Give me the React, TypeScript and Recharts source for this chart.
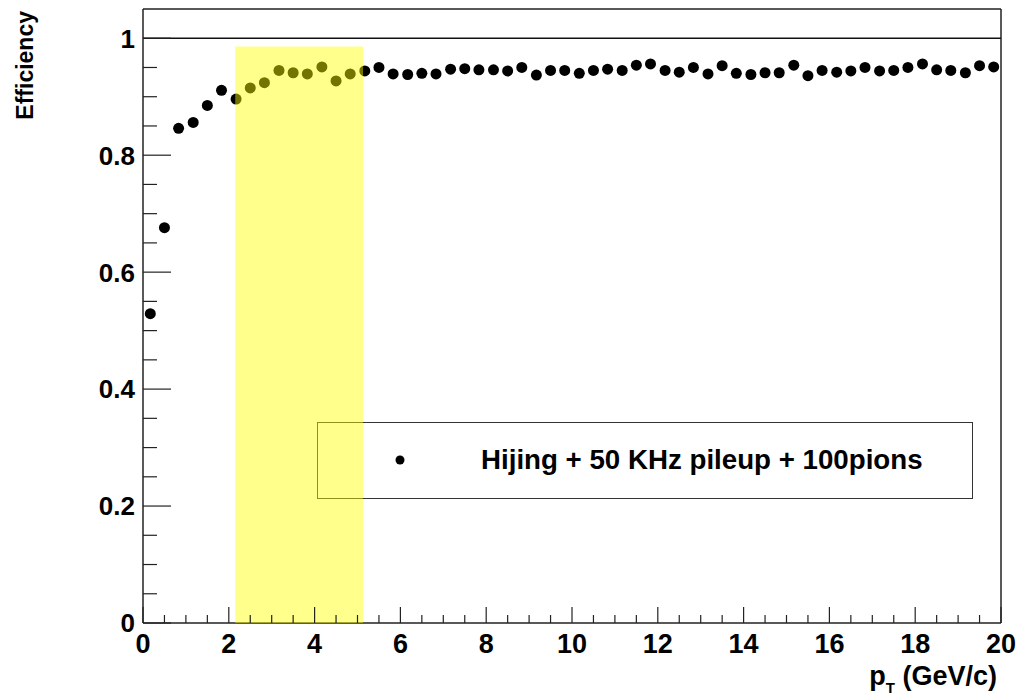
import { ScatterChart, Scatter, XAxis, YAxis, ReferenceArea, ReferenceLine } from 'recharts'

const FONT = '"Liberation Sans", Arial, Helvetica, sans-serif'

// bin centres (GeV/c), 1/3 GeV bins
const pT = [
  0.17, 0.5, 0.83, 1.17, 1.5, 1.83, 2.17, 2.5, 2.83, 3.17,
  3.5, 3.83, 4.17, 4.5, 4.83, 5.17, 5.5, 5.83, 6.17, 6.5,
  6.83, 7.17, 7.5, 7.83, 8.17, 8.5, 8.83, 9.17, 9.5, 9.83,
  10.17, 10.5, 10.83, 11.17, 11.5, 11.83, 12.17, 12.5, 12.83, 13.17,
  13.5, 13.83, 14.17, 14.5, 14.83, 15.17, 15.5, 15.83, 16.17, 16.5,
  16.83, 17.17, 17.5, 17.83, 18.17, 18.5, 18.83, 19.17, 19.5, 19.83,
]

const efficiency = [
  0.529, 0.676, 0.846, 0.856, 0.885, 0.911, 0.896, 0.915, 0.924, 0.945,
  0.941, 0.939, 0.951, 0.927, 0.939, 0.944, 0.95, 0.939, 0.938, 0.94,
  0.939, 0.947, 0.948, 0.946, 0.946, 0.944, 0.95, 0.937, 0.945, 0.945,
  0.94, 0.945, 0.947, 0.945, 0.954, 0.956, 0.945, 0.942, 0.95, 0.939,
  0.953, 0.94, 0.938, 0.941, 0.941, 0.954, 0.936, 0.945, 0.942, 0.944,
  0.95, 0.944, 0.945, 0.95, 0.956, 0.946, 0.945, 0.941, 0.953, 0.951,
]

const xTicks = [
  0, 0.5, 1, 1.5, 2, 2.5, 3, 3.5, 4, 4.5, 5, 5.5, 6, 6.5, 7, 7.5, 8, 8.5, 9, 9.5,
  10, 10.5, 11, 11.5, 12, 12.5, 13, 13.5, 14, 14.5, 15, 15.5, 16, 16.5, 17, 17.5,
  18, 18.5, 19, 19.5, 20,
]
const xMajor = [0, 2, 4, 6, 8, 10, 12, 14, 16, 18, 20]

const yTicks = [
  0, 0.05, 0.1, 0.15, 0.2, 0.25, 0.3, 0.35, 0.4, 0.45, 0.5,
  0.55, 0.6, 0.65, 0.7, 0.75, 0.8, 0.85, 0.9, 0.95, 1,
]
const yMajor = [0, 0.2, 0.4, 0.6, 0.8, 1]

const band = { x1: 2.15, x2: 5.13, top: 0.986 }
const legendLabel = 'Hijing + 50 KHz pileup + 100pions'

const points = pT.map((p, i) => ({ pt: p, eff: efficiency[i] }))

function XTick(props: any) {
  const { x, y, payload } = props
  const major = xMajor.includes(payload.value)
  return (
    <g>
      <line x1={x} x2={x} y1={y} y2={y - (major ? 16 : 8)} stroke="#222" strokeWidth={1.2} />
      {major && (
        <text x={x} y={y + 30} textAnchor="middle" fontFamily={FONT} fontWeight="bold" fontSize={27} fill="#000">
          {payload.value}
        </text>
      )}
    </g>
  )
}

function YTick(props: any) {
  const { x, y, payload } = props
  const major = yMajor.includes(payload.value)
  return (
    <g>
      <line x1={x} x2={x + (major ? 28 : 14)} y1={y} y2={y} stroke="#222" strokeWidth={1.2} />
      {major && (
        <text x={x - 8} y={y} dy="0.36em" textAnchor="end" fontFamily={FONT} fontWeight="bold" fontSize={26} fill="#000">
          {payload.value}
        </text>
      )}
    </g>
  )
}

function YTitle() {
  return (
    <text x={33} y={11} transform="rotate(-90, 33, 11)" textAnchor="end" fontFamily={FONT} fontWeight="bold" fontSize={23} fill="#000">
      Efficiency
    </text>
  )
}

function XTitle() {
  return (
    <text x={997} y={685} textAnchor="end" fontFamily={FONT} fontWeight="bold" fontSize={27} fill="#000">
      p
      <tspan fontSize={15} dy={8}>T</tspan>
      <tspan dy={-8}> (GeV/c)</tspan>
    </text>
  )
}

const Dot = (props: any) => <circle cx={props.cx} cy={props.cy} r={5.5} fill="#000" />

export default function App() {
  return (
    <div style={{ position: 'absolute', left: 0, top: 0, width: 1019, height: 700, background: '#fff' }}>
      <div
        style={{
          position: 'absolute', left: 317, top: 422, width: 656, height: 77,
          border: '1.5px solid #333', boxSizing: 'border-box',
        }}
      >
        <svg width={653} height={74} style={{ display: 'block' }}>
          <circle cx={82} cy={37} r={4.5} fill="#000" />
          <text x={163} y={46} fontFamily={FONT} fontWeight="bold" fontSize={27.7} fill="#000">
            {legendLabel}
          </text>
        </svg>
      </div>
      <div style={{ position: 'absolute', left: 0, top: 0 }}>
        <ScatterChart width={1019} height={700} margin={{ top: 9, right: 18, bottom: 0, left: 0 }}>
          <XAxis
            dataKey="pt"
            type="number"
            domain={[0, 20]}
            ticks={xTicks}
            interval={0}
            tickSize={0}
            tickMargin={0}
            tickLine={false}
            axisLine={{ stroke: '#222', strokeWidth: 1.5 }}
            tick={<XTick />}
            height={77}
            label={<XTitle />}
          />
          <YAxis
            dataKey="eff"
            type="number"
            domain={[0, 1.05]}
            ticks={yTicks}
            interval={0}
            tickSize={0}
            tickMargin={0}
            tickLine={false}
            axisLine={{ stroke: '#222', strokeWidth: 1.5 }}
            tick={<YTick />}
            width={143}
            label={<YTitle />}
          />
          <ReferenceLine y={1.05} stroke="#222" strokeWidth={1.5} />
          <ReferenceLine x={20} stroke="#222" strokeWidth={1.5} />
          <ReferenceLine y={1} stroke="#111" strokeWidth={1.5} />
          <Scatter data={points} fill="#000" shape={Dot} isAnimationActive={false} />
          <ReferenceArea
            x1={band.x1}
            x2={band.x2}
            y1={0}
            y2={band.top}
            fill="#ffff00"
            fillOpacity={0.45}
            stroke="none"
            zIndex={700}
          />
        </ScatterChart>
      </div>
    </div>
  )
}
